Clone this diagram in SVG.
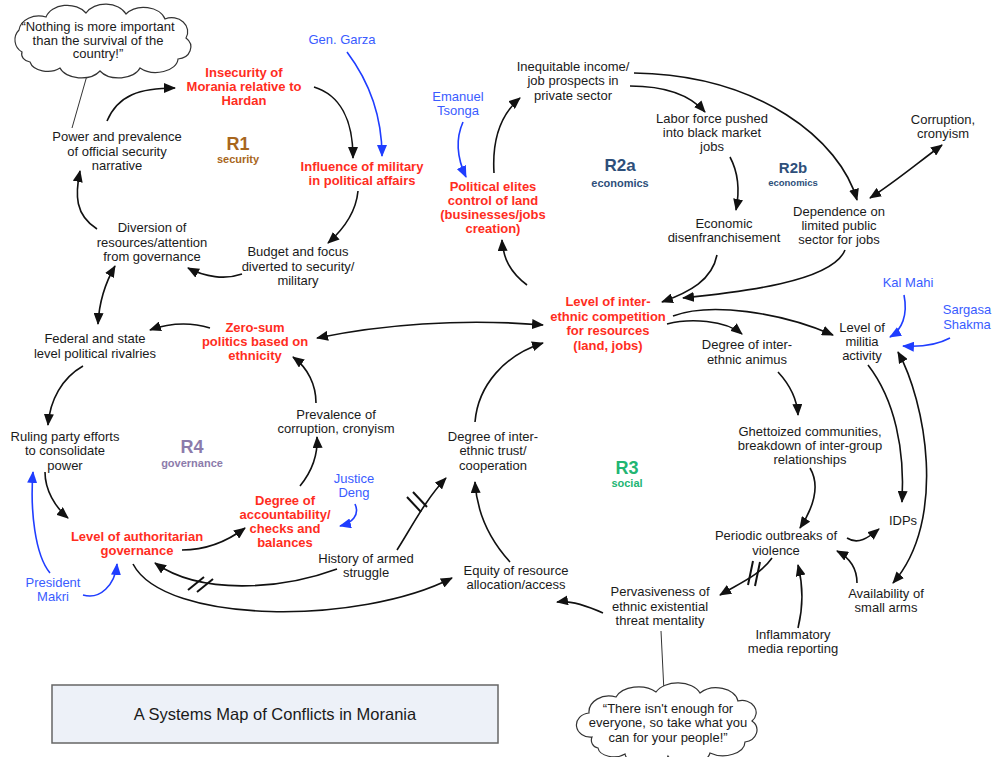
<svg xmlns="http://www.w3.org/2000/svg" width="992" height="757" viewBox="0 0 992 757">
  <defs>
    <marker id="ah" viewBox="0 0 12 10" refX="11" refY="5" markerWidth="12" markerHeight="10" markerUnits="userSpaceOnUse" orient="auto-start-reverse">
      <path d="M0,0 L12,5 L0,10 z" fill="#111"/>
    </marker>
    <marker id="ahb" viewBox="0 0 12 10" refX="11" refY="5" markerWidth="12" markerHeight="10" markerUnits="userSpaceOnUse" orient="auto-start-reverse">
      <path d="M0,0 L12,5 L0,10 z" fill="#1f3dff"/>
    </marker>
    <style>
      text { font-family: "Liberation Sans", Arial, sans-serif; font-size: 13px; fill: #1a1a1a; text-anchor: middle; }
      .red { fill: #ff2d1e; font-weight: bold; }
      .blue { fill: #3a5cff; }
      .loop { font-weight: bold; }
      .c { fill: none; stroke: #111; stroke-width: 1.6; marker-end: url(#ah); }
      .c.both { marker-start: url(#ah); }
      .c.bl { stroke: #1f3dff; marker-end: url(#ahb); }
      .tick { stroke: #111; stroke-width: 2; fill: none; }
      .tail { stroke: #333; stroke-width: 1; fill: none; }
      .cloud { fill: #fff; stroke: #333; stroke-width: 1.2; }
    </style>
  </defs>

  <rect width="992" height="757" fill="#fff"/>

  <!-- connectors -->
  <g id="connectors">
    <path class="tail" d="M88,72 L72,128"/>
    <path class="tail" d="M661,631 L664,692"/>

    <path class="c" d="M107,121 C118,95 140,88 175,88"/>
    <path class="c" d="M314,87 C340,95 353,120 353,158"/>
    <path class="c bl" d="M347,52 C368,80 382,115 382,156"/>
    <path class="c" d="M358,191 C356,212 345,228 328,243"/>
    <path class="c" d="M242,274 C225,280 205,277 188,268"/>
    <path class="c" d="M97,229 C75,215 75,195 80,171"/>
    <path class="c both" d="M115,266 C104,285 99,305 98,324"/>
    <path class="c" d="M210,328 C190,322 170,323 150,330"/>
    <path class="c both" d="M543,325 C460,318 380,325 317,338"/>
    <path class="c" d="M316,403 C316,385 308,368 293,357"/>
    <path class="c" d="M300,486 C313,470 318,455 317,437"/>
    <path class="c bl" d="M355,504 C360,515 352,523 340,526"/>
    <path class="c" d="M83,366 C62,378 50,400 48,425"/>
    <path class="c" d="M45,472 C45,490 55,507 68,518"/>
    <path class="c bl" d="M50,573 C35,555 30,510 33,472"/>
    <path class="c bl" d="M83,595 C100,600 115,585 117,564"/>
    <path class="c" d="M182,550 C205,550 225,543 245,528"/>
    <path class="c" d="M337,569 C280,590 200,595 155,563"/>
    <path class="tick" d="M188,590 L204,577 M197,592 L213,579"/>
    <path class="c" d="M397,550 C410,530 425,500 446,478"/>
    <path class="tick" d="M407,497 L421,512 M413,492 L427,507"/>
    <path class="c" d="M133,564 C165,625 360,625 452,578"/>
    <path class="c" d="M475,422 C478,385 505,355 543,343"/>
    <path class="c" d="M510,562 C490,540 477,515 475,482"/>
    <path class="c" d="M603,613 C585,605 570,600 557,602"/>
    <path class="c" d="M772,558 C760,575 740,583 720,595"/>
    <path class="tick" d="M753,561 L748,585 M760,562 L755,586"/>
    <path class="c" d="M847,538 C858,545 868,538 879,529"/>
    <path class="c" d="M798,628 C803,608 803,585 798,565"/>
    <path class="c" d="M857,583 C857,568 850,558 837,551"/>
    <path class="c both" d="M898,352 C925,400 948,520 893,583"/>
    <path class="c" d="M868,365 C895,400 905,450 902,502"/>
    <path class="c bl" d="M904,295 C908,315 902,330 890,337"/>
    <path class="c bl" d="M950,338 C935,346 918,347 903,346"/>
    <path class="c" d="M810,468 C820,485 815,505 800,528"/>
    <path class="c" d="M778,372 C790,385 797,398 798,415"/>
    <path class="c" d="M667,324 C690,318 725,320 742,334"/>
    <path class="c" d="M673,316 C710,302 780,312 833,335"/>
    <path class="c" d="M717,255 C712,280 690,292 662,302"/>
    <path class="c" d="M845,250 C832,282 740,292 683,298"/>
    <path class="c" d="M527,285 C510,272 503,258 502,240"/>
    <path class="c bl" d="M463,122 C455,140 458,160 466,177"/>
    <path class="c" d="M494,173 C492,140 500,115 520,98"/>
    <path class="c" d="M630,86 C665,86 690,95 705,112"/>
    <path class="c" d="M634,73 C760,75 840,140 857,200"/>
    <path class="c" d="M730,157 C738,172 740,190 736,210"/>
    <path class="c both" d="M942,145 C915,165 895,182 870,198"/>
  </g>

  <!-- thought clouds -->
  <g id="cloud-security">
    <path class="cloud" d="M22,52 A14,14 0 0 1 19,30 A20,16 0 0 1 46,17 A22,16 0 0 1 86,13 A22,16 0 0 1 126,14 A22,16 0 0 1 165,19 A16,14 0 0 1 186,38 A14,12 0 0 1 178,59 A22,14 0 0 1 140,68 A22,14 0 0 1 100,71 A22,14 0 0 1 60,68 A18,12 0 0 1 30,62 A10,8 0 0 1 22,52 z"/>
    <text><tspan x="98" y="31">“Nothing is more important</tspan><tspan x="98" y="44.5">than the survival of the</tspan><tspan x="98" y="58">country!”</tspan></text>
  </g>
  <g id="cloud-scarcity">
    <path class="cloud" d="M592,737 A14,12 0 0 1 589,713 A20,16 0 0 1 616,697 A24,16 0 0 1 656,692 A24,16 0 0 1 700,693 A22,16 0 0 1 738,701 A14,12 0 0 1 752,721 A14,12 0 0 1 745,742 A22,14 0 0 1 710,753 A22,14 0 0 1 668,756 A22,14 0 0 1 625,754 A16,10 0 0 1 598,748 A8,8 0 0 1 592,737 z"/>
    <text><tspan x="668" y="713">“There isn't enough for</tspan><tspan x="668" y="727">everyone, so take what you</tspan><tspan x="668" y="742">can for your people!”</tspan></text>
  </g>

  <!-- loop labels -->
  <g id="loop-r1">
    <text class="loop" style="fill:#a8661c;font-size:18px" x="238" y="149.5">R1</text>
    <text class="loop" style="fill:#a8661c;font-size:11px" x="238" y="163">security</text>
  </g>
  <g id="loop-r2a">
    <text class="loop" style="fill:#2e4f7a;font-size:17px" x="620" y="171">R2a</text>
    <text class="loop" style="fill:#2e4f7a;font-size:11px" x="620" y="187">economics</text>
  </g>
  <g id="loop-r2b">
    <text class="loop" style="fill:#2e4f7a;font-size:15px" x="793" y="173">R2b</text>
    <text class="loop" style="fill:#2e4f7a;font-size:9.5px" x="793" y="185.5">economics</text>
  </g>
  <g id="loop-r3">
    <text class="loop" style="fill:#22b573;font-size:18px" x="627" y="474">R3</text>
    <text class="loop" style="fill:#22b573;font-size:11px" x="627" y="487">social</text>
  </g>
  <g id="loop-r4">
    <text class="loop" style="fill:#8c7bab;font-size:18px" x="192" y="453">R4</text>
    <text class="loop" style="fill:#8c7bab;font-size:11px" x="192" y="467">governance</text>
  </g>

  <!-- variables -->
  <g id="power-narrative"><text><tspan x="117" y="141">Power and prevalence</tspan><tspan x="117" y="155.5">of official security</tspan><tspan x="117" y="169.5">narrative</tspan></text></g>
  <g id="insecurity"><text class="red"><tspan x="244" y="77">Insecurity of</tspan><tspan x="244" y="91">Morania relative to</tspan><tspan x="244" y="105">Hardan</tspan></text></g>
  <g id="gen-garza"><text class="blue" x="342" y="44">Gen. Garza</text></g>
  <g id="military-influence"><text class="red"><tspan x="362" y="170.5">Influence of military</tspan><tspan x="362" y="184.5">in political affairs</tspan></text></g>
  <g id="budget-focus"><text><tspan x="298" y="256">Budget and focus</tspan><tspan x="298" y="271">diverted to security/</tspan><tspan x="298" y="285">military</tspan></text></g>
  <g id="diversion"><text><tspan x="152" y="232">Diversion of</tspan><tspan x="152" y="247">resources/attention</tspan><tspan x="152" y="261">from governance</tspan></text></g>
  <g id="rivalries"><text><tspan x="95" y="343">Federal and state</tspan><tspan x="95" y="358">level political rivalries</tspan></text></g>
  <g id="zero-sum"><text class="red"><tspan x="255" y="332">Zero-sum</tspan><tspan x="255" y="346">politics based on</tspan><tspan x="255" y="360">ethnicity</tspan></text></g>
  <g id="corruption-prevalence"><text><tspan x="336" y="419">Prevalence of</tspan><tspan x="336" y="433">corruption, cronyism</tspan></text></g>
  <g id="accountability"><text class="red"><tspan x="285" y="504.5">Degree of</tspan><tspan x="285" y="518.5">accountability/</tspan><tspan x="285" y="532.5">checks and</tspan><tspan x="285" y="546.5">balances</tspan></text></g>
  <g id="justice-deng"><text class="blue"><tspan x="354" y="483">Justice</tspan><tspan x="354" y="497">Deng</tspan></text></g>
  <g id="ruling-party"><text><tspan x="65" y="441">Ruling party efforts</tspan><tspan x="65" y="455">to consolidate</tspan><tspan x="65" y="470">power</tspan></text></g>
  <g id="authoritarian"><text class="red"><tspan x="137" y="541">Level of authoritarian</tspan><tspan x="137" y="555">governance</tspan></text></g>
  <g id="president-makri"><text class="blue"><tspan x="53" y="587">President</tspan><tspan x="53" y="601">Makri</tspan></text></g>
  <g id="armed-struggle"><text><tspan x="366" y="563">History of armed</tspan><tspan x="366" y="577">struggle</tspan></text></g>
  <g id="trust"><text><tspan x="493" y="441">Degree of inter-</tspan><tspan x="493" y="455">ethnic trust/</tspan><tspan x="493" y="470">cooperation</tspan></text></g>
  <g id="equity"><text><tspan x="516" y="575">Equity of resource</tspan><tspan x="516" y="589">allocation/access</tspan></text></g>
  <g id="threat-mentality"><text><tspan x="660" y="596">Pervasiveness of</tspan><tspan x="660" y="611">ethnic existential</tspan><tspan x="660" y="625">threat mentality</tspan></text></g>
  <g id="violence"><text><tspan x="776" y="540">Periodic outbreaks of</tspan><tspan x="776" y="555">violence</tspan></text></g>
  <g id="idps"><text x="903" y="525">IDPs</text></g>
  <g id="media"><text><tspan x="793" y="639">Inflammatory</tspan><tspan x="793" y="653">media reporting</tspan></text></g>
  <g id="small-arms"><text><tspan x="886" y="598">Availability of</tspan><tspan x="886" y="612">small arms</tspan></text></g>
  <g id="ghettoized"><text><tspan x="810" y="436">Ghettoized communities,</tspan><tspan x="810" y="450">breakdown of inter-group</tspan><tspan x="810" y="464">relationships</tspan></text></g>
  <g id="animus"><text><tspan x="747" y="349">Degree of inter-</tspan><tspan x="747" y="363.5">ethnic animus</tspan></text></g>
  <g id="militia"><text><tspan x="862" y="332">Level of</tspan><tspan x="862" y="346">militia</tspan><tspan x="862" y="360">activity</tspan></text></g>
  <g id="kal-mahi"><text class="blue" x="908" y="287">Kal Mahi</text></g>
  <g id="sargasa-shakma"><text class="blue"><tspan x="967" y="314">Sargasa</tspan><tspan x="967" y="329">Shakma</tspan></text></g>
  <g id="competition"><text class="red"><tspan x="608" y="306">Level of inter-</tspan><tspan x="608" y="321">ethnic competition</tspan><tspan x="608" y="335">for resources</tspan><tspan x="608" y="350">(land, jobs)</tspan></text></g>
  <g id="elites-land"><text class="red"><tspan x="493" y="191">Political elites</tspan><tspan x="493" y="205">control of land</tspan><tspan x="493" y="219">(businesses/jobs</tspan><tspan x="493" y="233">creation)</tspan></text></g>
  <g id="emanuel-tsonga"><text class="blue"><tspan x="458" y="101">Emanuel</tspan><tspan x="458" y="115">Tsonga</tspan></text></g>
  <g id="inequitable-income"><text><tspan x="573" y="71">Inequitable income/</tspan><tspan x="573" y="85">job prospects in</tspan><tspan x="573" y="100">private sector</tspan></text></g>
  <g id="black-market"><text><tspan x="712" y="123">Labor force pushed</tspan><tspan x="712" y="137">into black market</tspan><tspan x="712" y="151">jobs</tspan></text></g>
  <g id="disenfranchisement"><text><tspan x="724" y="228">Economic</tspan><tspan x="724" y="242">disenfranchisement</tspan></text></g>
  <g id="public-sector"><text><tspan x="839" y="216">Dependence on</tspan><tspan x="839" y="230">limited public</tspan><tspan x="839" y="244">sector for jobs</tspan></text></g>
  <g id="corruption"><text><tspan x="943" y="124">Corruption,</tspan><tspan x="943" y="138">cronyism</tspan></text></g>

  <!-- title -->
  <g id="title">
    <rect x="52" y="685" width="446" height="58" fill="#edf1f8" stroke="#666" stroke-width="1.5"/>
    <text style="font-size:16.5px" x="275" y="720">A Systems Map of Conflicts in Morania</text>
  </g>
</svg>
